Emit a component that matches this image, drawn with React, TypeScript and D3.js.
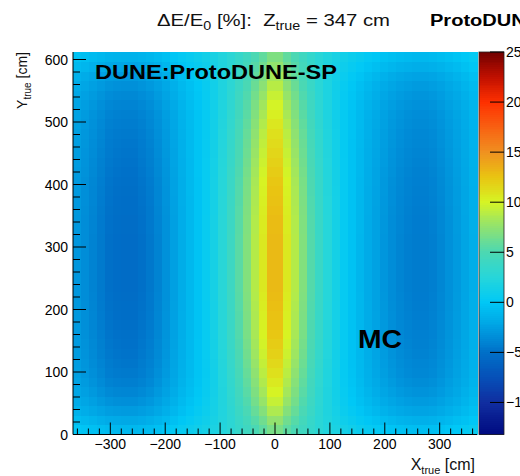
import React, { useEffect, useRef } from "react";
import * as d3 from "d3";

// binning of the 2D map (cm)
const xRange = [-368, 368];
const yRange = [0, 612];

// ΔE/E0 [%] per X bin, read along the middle rows (left -> right)
const columnDeltaE = [
  -3, -3.5, -4, -4.5, -5, -5.2, -5.3, -5.3, -5, -4.6,
  -4, -3.3, -2.5, -1.7, -1, -0.3, 0.5, 1.5, 2.7, 4,
  5.5, 7, 8.8, 10.6, 13, 13, 10.6, 8.8, 7, 5.3,
  3.8, 2.5, 1.4, 0.4, -0.4, -1.1, -1.8, -2.4, -3, -3.5,
  -3.9, -4.2, -4.4, -4.4, -4.2, -3.8, -3.3, -2.8, -2.2, -1.6,
];

// how strong the X profile is in each Y bin (bottom -> top), and a small shift
const rowScale = [
  0.42, 0.52, 0.62, 0.7, 0.76, 0.81, 0.85, 0.88, 0.91, 0.93,
  0.95, 0.96, 0.97, 0.98, 0.99, 1, 1, 1, 1, 1,
  1, 0.99, 0.99, 0.98, 0.97, 0.96, 0.95, 0.93, 0.91, 0.89,
  0.87, 0.85, 0.82, 0.79, 0.76, 0.72, 0.67, 0.61, 0.53, 0.45,
];
const rowOffset = [
  1.2, 0.8, 0.5, 0.3, 0.15, 0.05, 0, 0, 0, 0,
  0, 0, 0, 0, 0, 0, 0, 0, 0, 0,
  0, 0, 0, 0, 0, 0, 0, 0, 0, 0,
  0, 0, 0, 0, 0.05, 0.1, 0.2, 0.4, 0.7, 1.0,
];

const xTicks = [-300, -200, -100, 0, 100, 200, 300];
const yTicks = [0, 100, 200, 300, 400, 500, 600];
const zRange = [-13.2, 25];
const zTicks = [-10, -5, 0, 5, 10, 15, 20, 25];

// palette stops (kRainBow-like)
const paletteStops = [-13.2, -10, -7.5, -5, -2.5, 0, 2.5, 5, 7.5, 10, 12.5, 15, 17.5, 20, 22.5, 25];
const paletteColors = [
  "#000a80", "#102ea0", "#0650b8", "#0070c8", "#00a0e2", "#00c8f6", "#26d6da", "#4cd8b2",
  "#90e270", "#d6f424", "#e9c412", "#f09020", "#f86012", "#fe3000", "#c01000", "#700000",
];

const font = "'Liberation Sans', Arial, sans-serif";

const App = () => {
  const ref = useRef(null);

  useEffect(() => {
    const svg = d3.select(ref.current);
    svg.selectAll("*").remove();

    const left = 73, right = 477, top = 52, bottom = 434.5;
    const x = d3.scaleLinear().domain(xRange).range([left, right]);
    const y = d3.scaleLinear().domain(yRange).range([bottom, top]);
    const z = d3.scaleLinear().domain(zRange).range([bottom, top]);
    const color = d3
      .scaleLinear<string>()
      .domain(paletteStops)
      .range(paletteColors)
      .interpolate(d3.interpolateRgb)
      .clamp(true);

    const nx = columnDeltaE.length;
    const ny = rowScale.length;
    const dx = (xRange[1] - xRange[0]) / nx;
    const dy = (yRange[1] - yRange[0]) / ny;

    const cells = [];
    for (let j = 0; j < ny; j++) {
      for (let i = 0; i < nx; i++) {
        cells.push({
          x0: xRange[0] + i * dx,
          y0: yRange[0] + j * dy,
          v: columnDeltaE[i] * rowScale[j] + rowOffset[j],
        });
      }
    }

    svg
      .append("g")
      .selectAll("rect")
      .data(cells)
      .join("rect")
      .attr("x", (d) => x(d.x0))
      .attr("y", (d) => y(d.y0 + dy))
      .attr("width", (d) => x(d.x0 + dx) - x(d.x0) + 0.5)
      .attr("height", (d) => y(d.y0) - y(d.y0 + dy) + 0.5)
      .attr("fill", (d) => color(d.v))
      .attr("shape-rendering", "crispEdges");

    // axes lines
    const axes = svg.append("g").attr("stroke", "#000").attr("stroke-width", 1);
    axes.append("line").attr("x1", left).attr("x2", left).attr("y1", top).attr("y2", bottom);
    axes.append("line").attr("x1", left).attr("x2", right).attr("y1", bottom).attr("y2", bottom);

    const xMinor = d3.range(-360, 361, 20);
    axes
      .selectAll(".xt")
      .data(xMinor)
      .join("line")
      .attr("x1", (d) => x(d))
      .attr("x2", (d) => x(d))
      .attr("y1", bottom)
      .attr("y2", (d) => bottom - (d % 100 === 0 ? 12 : 6));

    const yMinor = d3.range(0, 601, 20);
    axes
      .selectAll(".yt")
      .data(yMinor)
      .join("line")
      .attr("y1", (d) => y(d))
      .attr("y2", (d) => y(d))
      .attr("x1", left)
      .attr("x2", (d) => left + (d % 100 === 0 ? 13 : 7));

    const labels = svg.append("g").attr("font-family", font).attr("font-size", 14).attr("fill", "#000");
    labels
      .selectAll(".xl")
      .data(xTicks)
      .join("text")
      .attr("x", (d) => x(d))
      .attr("y", 449)
      .attr("text-anchor", "middle")
      .text((d) => (d < 0 ? "\u2212" + Math.abs(d) : String(d)));
    labels
      .selectAll(".yl")
      .data(yTicks)
      .join("text")
      .attr("x", 68)
      .attr("y", (d) => y(d) + 5)
      .attr("text-anchor", "end")
      .text((d) => String(d));

    // palette
    const pl = 479, pr = 504;
    const steps = d3.range(0, 200);
    const pal = svg.append("g");
    pal
      .selectAll("rect")
      .data(steps)
      .join("rect")
      .attr("x", pl)
      .attr("width", pr - pl)
      .attr("y", (s) => top + ((bottom - top) * s) / steps.length)
      .attr("height", (bottom - top) / steps.length + 0.6)
      .attr("fill", (s) => color(zRange[1] - ((zRange[1] - zRange[0]) * (s + 0.5)) / steps.length))
      .attr("shape-rendering", "crispEdges");
    pal
      .append("rect")
      .attr("x", pl)
      .attr("y", top)
      .attr("width", pr - pl)
      .attr("height", bottom - top)
      .attr("fill", "none")
      .attr("stroke", "#222")
      .attr("stroke-width", 0.8);
    pal
      .selectAll("line")
      .data(zTicks)
      .join("line")
      .attr("x1", pr)
      .attr("x2", pr - 14)
      .attr("y1", (d) => z(d))
      .attr("y2", (d) => z(d))
      .attr("stroke", "#000");
    labels
      .selectAll(".zl")
      .data(zTicks)
      .join("text")
      .attr("x", 506)
      .attr("y", (d) => z(d) + 5)
      .text((d) => (d < 0 ? "\u2212" + Math.abs(d) : String(d)));
  }, []);

  return (
    <svg
      width={520}
      height={476}
      style={{ position: "absolute", left: 0, top: 0, background: "#fff" }}
      fontFamily={font}
    >
      <g ref={ref} />
      <text x={157} y={26} fontSize={17} textLength={233} lengthAdjust="spacingAndGlyphs" fill="#111">
        ΔE/E<tspan dy={4} fontSize={12}>0</tspan>
        <tspan dy={-4}>{" [%]:\u00a0 Z"}</tspan>
        <tspan dy={4} fontSize={12}>true</tspan>
        <tspan dy={-4}> = 347 cm</tspan>
      </text>
      <text
        x={430}
        y={26}
        fontSize={17}
        fontWeight="bold"
        fill="#000"
        transform="translate(430,26) scale(1.18,1) translate(-430,-26)"
      >
        ProtoDUNE-SP
      </text>
      <text x={95} y={79} fontSize={20} fontWeight="bold" fill="#000" textLength={242} lengthAdjust="spacingAndGlyphs">
        DUNE:ProtoDUNE-SP
      </text>
      <text x={358} y={348} fontSize={25} fontWeight="bold" fill="#000" textLength={44} lengthAdjust="spacingAndGlyphs">
        MC
      </text>
      <text x={475} y={470} fontSize={16} textAnchor="end" fill="#111">
        X<tspan dy={4} fontSize={11}>true</tspan>
        <tspan dy={-4}> [cm]</tspan>
      </text>
      <text transform="translate(27,52) rotate(-90)" fontSize={14} textAnchor="end" fill="#111">
        Y<tspan dy={4} fontSize={10}>true</tspan>
        <tspan dy={-4}> [cm]</tspan>
      </text>
    </svg>
  );
};

export default App;
